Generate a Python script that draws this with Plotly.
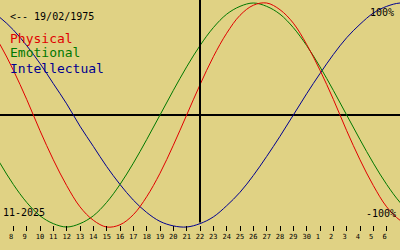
import plotly.graph_objects as go

# Day index: November days 6..30, then December 1..8 as 31..38
days = list(range(6, 39))
tick_vals = list(range(8, 37))
tick_text = [("%d\u00a0" % d if d < 10 else "%d" % d) for d in range(8, 31)] + \
            ["%d\u00a0" % d for d in range(1, 7)]

physical = [0.82, 0.63, 0.40, 0.14, -0.14, -0.40, -0.63, -0.82, -0.94, -1.00,
            -0.98, -0.89, -0.73, -0.52, -0.27, 0.00, 0.27, 0.52, 0.73, 0.89,
            0.98, 1.00, 0.94, 0.82, 0.63, 0.40, 0.14, -0.14, -0.40, -0.63,
            -0.82, -0.94, -1.00]
emotional = [-0.22, -0.43, -0.62, -0.78, -0.90, -0.97, -1.00, -0.97, -0.90, -0.78,
             -0.62, -0.43, -0.22, 0.00, 0.22, 0.43, 0.62, 0.78, 0.90, 0.97,
             1.00, 0.97, 0.90, 0.78, 0.62, 0.43, 0.22, 0.00, -0.22, -0.43,
             -0.62, -0.78, -0.90]
intellectual = [0.95, 0.87, 0.76, 0.62, 0.46, 0.28, 0.10, -0.10, -0.28, -0.46,
                -0.62, -0.76, -0.87, -0.95, -0.99, -1.00, -0.97, -0.91, -0.81, -0.69,
                -0.54, -0.37, -0.19, 0.00, 0.19, 0.37, 0.54, 0.69, 0.81, 0.91,
                0.97, 1.00, 0.99]

today = 22
BG = "#E0D284"
RED = "#E00000"
GREEN = "#007800"
BLUE = "#000090"
MONO = "DejaVu Sans Mono"

fig = go.Figure()
for vals, col in [(intellectual, BLUE), (emotional, GREEN), (physical, RED)]:
    fig.add_trace(go.Scatter(x=days, y=vals, mode="lines",
                             line=dict(color=col, width=1, shape="spline"),
                             hoverinfo="skip", showlegend=False))

fig.add_shape(type="line", xref="x", yref="y", x0=today, x1=today, y0=-0.96, y1=1.1,
              line=dict(color="black", width=2))

fig.update_layout(
    width=400, height=250, autosize=False,
    margin=dict(l=0, r=0, t=0, b=0),
    paper_bgcolor=BG, plot_bgcolor=BG,
    showlegend=False,
    xaxis=dict(range=[7, 37], anchor="free", position=0.1,
               tickmode="array", tickvals=tick_vals, ticktext=tick_text,
               ticks="outside", ticklen=5, tickwidth=1, tickcolor="black",
               tickfont=dict(family=MONO, size=7, color="black"),
               showgrid=False, zeroline=False, showline=False, fixedrange=True),
    yaxis=dict(range=[-1.2054, 1.0268], showticklabels=False, ticks="",
               showgrid=False, zeroline=True, zerolinecolor="black",
               zerolinewidth=1.5, showline=False, fixedrange=True),
)

def note(text, x, y, size, color="black", xanchor="left"):
    fig.add_annotation(text=text, xref="paper", yref="paper", x=x, y=y,
                       xanchor=xanchor, yanchor="middle", showarrow=False,
                       font=dict(family=MONO, size=size, color=color))

note("&lt;-- 19/02/1975", 8 / 400, 1 - 16.5 / 250, 10)
note("Physical", 8 / 400, 1 - 38 / 250, 13, RED)
note("Emotional", 8 / 400, 1 - 53 / 250, 13, GREEN)
note("Intellectual", 8 / 400, 1 - 68.5 / 250, 13, BLUE)
note("11-2025", 1 / 400, 1 - 212.5 / 250, 10)
note("100%", 396 / 400, 1 - 12 / 250, 10, xanchor="right")
note("-100%", 398 / 400, 1 - 213 / 250, 10, xanchor="right")

fig.write_html("out.html")
